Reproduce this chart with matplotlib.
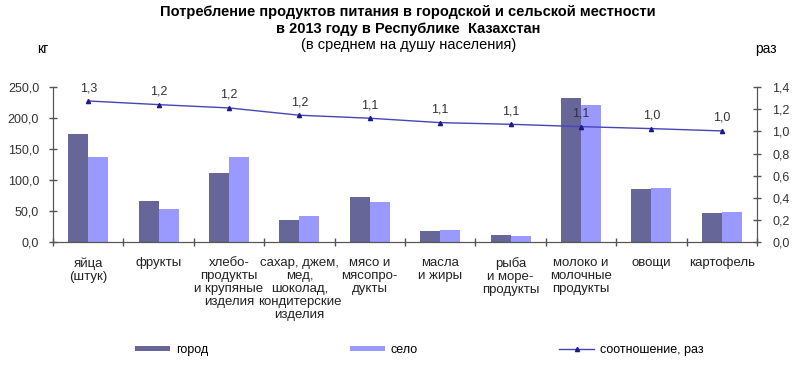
import matplotlib
matplotlib.use('Agg')
import matplotlib.pyplot as plt
import numpy as np
from matplotlib.ticker import FuncFormatter

plt.rcParams['font.family'] = ['Liberation Sans', 'DejaVu Sans']

categories = ['яйца\n(штук)', 'фрукты', 'хлебо-\nпродукты\nи крупяные\nизделия',
              'сахар, джем,\nмед,\nшоколад,\nкондитерские\nизделия',
              'мясо и\nмясопро-\nдукты', 'масла\nи жиры', 'рыба\nи море-\nпродукты',
              'молоко и\nмолочные\nпродукты', 'овощи', 'картофель']
city = [175, 66.5, 112, 36, 73, 17, 10.8, 233, 86, 47]
village = [137, 52.7, 137.5, 42, 64, 19, 10, 222, 88, 49]
ratio = [1.276, 1.243, 1.213, 1.147, 1.12, 1.08, 1.065, 1.044, 1.026, 1.005]
ratio_labels = ['1,3', '1,2', '1,2', '1,2', '1,1', '1,1', '1,1', '1,1', '1,0', '1,0']

dark = '#666699'
light = '#9999ff'
line_c = '#4545b8'
axis_c = '#555555'

def comma(v, pos):
    return f'{v:.1f}'.replace('.', ',')

fig = plt.figure(figsize=(8, 3.67), dpi=100)
ax = fig.add_axes([0.06625, 0.3406, 0.88, 0.4216])
ax2 = ax.twinx()

x = np.arange(len(categories)) + 0.5
w = 0.284
ax.bar(x - w / 2, city, w, color=dark, label='город', zorder=2)
ax.bar(x + w / 2, village, w, color=light, label='село', zorder=2)

ax.set_xlim(0, 10)
ax.set_ylim(0, 250)
ax.set_yticks(np.arange(0, 251, 50))
ax.yaxis.set_major_formatter(FuncFormatter(comma))
ax.set_xticks(np.arange(0, 11))
ax.set_xticklabels([])
ax.tick_params(axis='x', direction='inout', length=6, color=axis_c, width=1)
ax.tick_params(axis='y', direction='inout', length=6, color=axis_c, width=1,
               labelsize=9, labelcolor='#333333', pad=7)

ax2.plot(x, ratio, color=line_c, lw=1, marker='^', ms=3, mfc='#1a1a8c',
         mec='#1a1a8c', label='соотношение, раз', zorder=3)
ax2.set_ylim(0, 1.4)
ax2.set_yticks(np.arange(0, 1.41, 0.2))
ax2.yaxis.set_major_formatter(FuncFormatter(comma))
ax2.tick_params(axis='y', direction='inout', length=6, color=axis_c, width=1,
                labelsize=9, labelcolor='#333333', pad=8)
for xi, yi, lab in zip(x, ratio, ratio_labels):
    ax2.annotate(lab, (xi, yi), xytext=(0, 5), textcoords='offset points',
                 ha='center', va='bottom', fontsize=9, color='#333333')

for a in (ax, ax2):
    a.spines['top'].set_visible(False)
    for s in ('left', 'right', 'bottom'):
        a.spines[s].set_color(axis_c)

for xi, lab in zip(x, categories):
    ax.text(xi, -0.1, lab, transform=ax.get_xaxis_transform(), ha='center',
            va='top', fontsize=9.5, linespacing=1.1, color='#222222')

fig.text(0.51, 0.968, 'Потребление продуктов питания в городской и сельской местности',
         ha='center', va='center', fontsize=10.5, fontweight='bold')
fig.text(0.51, 0.921, 'в 2013 году в Республике  Казахстан',
         ha='center', va='center', fontsize=10.5, fontweight='bold')
fig.text(0.511, 0.877, '(в среднем на душу населения)', ha='center', va='center',
         fontsize=10.5)
fig.text(0.046, 0.866, 'кг', ha='left', va='center', fontsize=10)
fig.text(0.944, 0.866, 'раз', ha='left', va='center', fontsize=10)

h1, l1 = ax.get_legend_handles_labels()
h2, l2 = ax2.get_legend_handles_labels()
fig.legend(h1 + h2, l1 + l2, loc='center left', bbox_to_anchor=(0.169, 0.046),
           ncol=3, frameon=False, fontsize=9, handlelength=2.8, handleheight=0.3,
           columnspacing=11.3, handletextpad=0.48, borderpad=0, borderaxespad=0)

fig.savefig('out.png', dpi=100)
